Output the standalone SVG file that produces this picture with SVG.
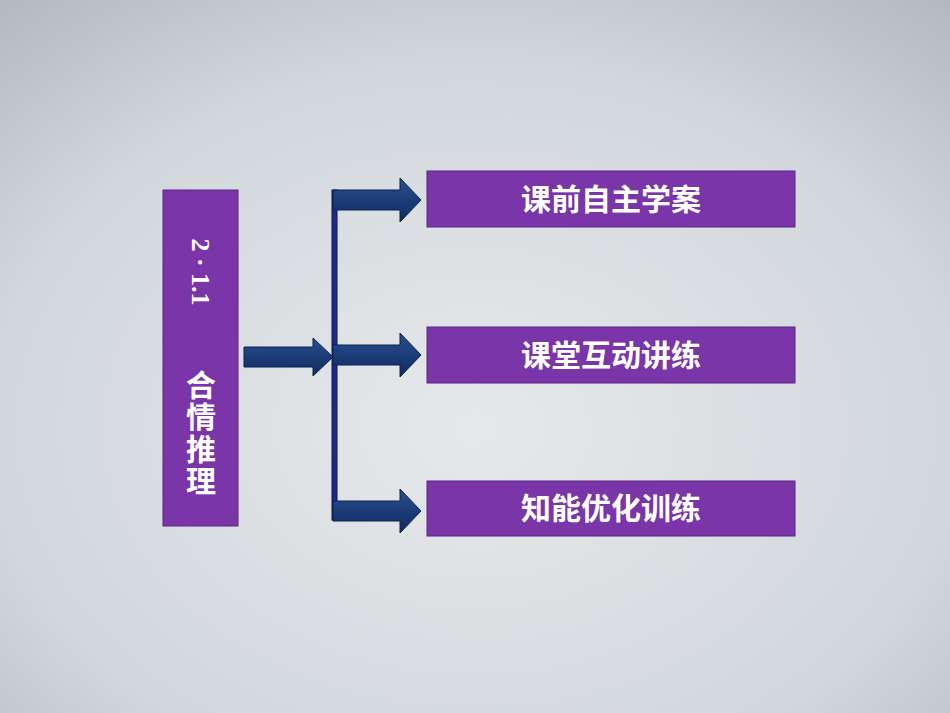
<svg xmlns="http://www.w3.org/2000/svg" width="950" height="713" viewBox="0 0 950 713">
<defs>
<radialGradient id="bg" cx="0.5" cy="0.6" r="0.85"><stop offset="0" stop-color="#e6e9ec"/><stop offset="0.6" stop-color="#d2d7db"/><stop offset="1" stop-color="#a9b1b8"/></radialGradient>
<linearGradient id="ar" x1="0" y1="0" x2="0" y2="1"><stop offset="0" stop-color="#2a4f8f"/><stop offset="1" stop-color="#0e2a60"/></linearGradient>
<style>
.box{fill:#7a35a8;stroke:#5c2483;stroke-width:1}
.t{font-family:"Noto Sans CJK SC","Liberation Sans",sans-serif;font-weight:bold;fill:#fff;font-size:30px;text-anchor:middle}
.a{fill:url(#ar);stroke:#0b2152;stroke-width:1}
</style>
</defs>
<rect width="950" height="713" fill="url(#bg)"/>
<g id="main"><rect class="box" x="163" y="190" width="75" height="336"/>
<text transform="translate(192,272) rotate(90)" font-family="'Liberation Serif',serif" font-weight="bold" font-size="26" fill="#fff" text-anchor="middle">2 · 1.1</text>
<text class="t" x="201" y="370" style="writing-mode:vertical-rl;text-anchor:start;letter-spacing:2px">合情推理</text></g>
<g id="connectors">
<rect x="332" y="190" width="5" height="330" fill="#1c2a8a" stroke="#0b1660"/>
<path class="a" d="M244,347 H313 V338 L333,357 L313,376 V367 H244 Z"/>
<path class="a" d="M333,190 H400 V178 L421,200 L400,222 V210 H333 Z"/>
<path class="a" d="M333,345 H400 V333 L421,355 L400,377 V365 H333 Z"/>
<path class="a" d="M333,501 H400 V489 L421,511 L400,533 V521 H333 Z"/>
</g>
<g id="n1"><rect class="box" x="427" y="171" width="368" height="56"/><text class="t" x="611" y="210">课前自主学案</text></g>
<g id="n2"><rect class="box" x="427" y="327" width="368" height="56"/><text class="t" x="611" y="366">课堂互动讲练</text></g>
<g id="n3"><rect class="box" x="427" y="481" width="368" height="55"/><text class="t" x="611" y="519">知能优化训练</text></g>
</svg>
